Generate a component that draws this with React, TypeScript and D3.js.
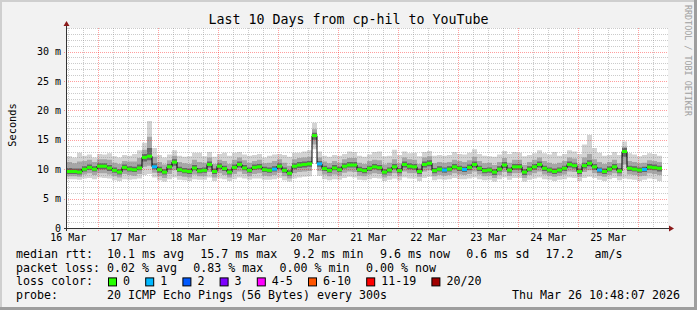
import React from 'react';
import * as d3 from 'd3';

const W = 697;
const H = 310;
const title = 'Last 10 Days from cp-hil to YouTube';
const yAxisTitle = 'Seconds';
const watermark = 'RRDTOOL / TOBI OETIKER';
const startTime = Date.UTC(2026, 2, 16, 11, 29);
const endTime = Date.UTC(2026, 2, 26, 11, 29);
const stepHours = 2;

// median rtt per 2h step (ms)
const medianMs = [
  9.6, 9.6, 9.5, 10.0, 10.3, 10.0, 10.5, 10.5, 10.2, 9.8,
  9.5, 10.3, 10.0, 9.9, 10.2, 12.0, 12.2, 10.4, 9.9, 9.5,
  10.4, 11.2, 9.9, 9.7, 9.6, 10.2, 9.7, 9.8, 10.8, 9.6,
  10.5, 10.1, 9.5, 10.3, 10.8, 10.2, 9.8, 10.3, 10.4, 9.9,
  9.8, 10.0, 10.5, 9.8, 9.3, 10.5, 10.7, 10.8, 10.9, 15.7,
  10.9, 10.1, 9.8, 10.2, 9.9, 10.5, 10.7, 10.7, 9.9, 9.75,
  10.15, 10.4, 10.25, 9.5, 9.85, 10.4, 9.75, 10.8, 10.5, 10.4,
  9.6, 10.8, 11.0, 9.75, 10.0, 9.85, 10.0, 10.4, 10.15, 9.95,
  10.3, 10.8, 10.15, 9.75, 9.85, 9.5, 10.0, 10.7, 9.85, 10.4,
  10.4, 9.5, 10.0, 10.4, 10.8, 10.15, 9.85, 9.6, 9.85, 10.15,
  10.8, 10.6, 9.6, 10.6, 11.0, 10.4, 9.85, 9.6, 10.0, 10.4,
  9.7, 13.0, 10.15, 10.0, 9.85, 9.95, 10.35, 10.25, 10.15,
];

// lost pings (of 20) per step
const lostPings = [
  0, 0, 0, 0, 0, 0, 0, 0, 0, 0,
  0, 0, 0, 0, 0, 0, 0, 1, 0, 0,
  0, 0, 0, 0, 0, 0, 0, 0, 0, 0,
  0, 0, 0, 0, 0, 0, 0, 0, 0, 0,
  0, 1, 0, 0, 0, 0, 0, 0, 0, 0,
  1, 0, 0, 0, 0, 0, 0, 0, 0, 0,
  0, 0, 0, 0, 0, 0, 0, 0, 0, 0,
  0, 0, 0, 0, 0, 1, 0, 0, 0, 1,
  0, 0, 0, 0, 0, 0, 0, 0, 0, 0,
  0, 0, 0, 0, 0, 0, 0, 0, 0, 0,
  0, 0, 0, 0, 0, 0, 1, 0, 0, 0,
  0, 0, 0, 0, 0, 1, 0, 0, 0,
];

const smokeMax = [
  12.2, 12.0, 12.8, 12.3, 12.5, 12.0, 12.6, 12.5, 12.7, 12.2,
  12.0, 12.4, 12.3, 12.6, 13.2, 14.5, 18.2, 13.6, 12.4, 12.0,
  12.5, 13.2, 12.3, 12.1, 12.2, 12.8, 12.8, 12.2, 12.9, 12.1,
  12.6, 12.8, 12.3, 12.8, 12.9, 12.5, 12.3, 12.4, 12.6, 12.0,
  12.3, 12.5, 12.6, 12.4, 12.1, 12.8, 12.8, 13.0, 13.2, 17.9,
  13.0, 12.3, 12.1, 12.4, 12.3, 12.6, 13.0, 12.9, 12.3, 12.1,
  12.5, 12.9, 13.0, 12.2, 12.3, 13.3, 12.4, 13.0, 12.7, 12.8,
  12.2, 12.9, 13.1, 12.3, 12.4, 12.3, 12.4, 12.9, 12.6, 12.5,
  12.8, 13.4, 12.6, 12.3, 12.2, 12.1, 12.5, 13.1, 12.6, 12.9,
  12.8, 12.2, 12.4, 12.7, 13.2, 12.7, 12.5, 12.9, 12.3, 12.6,
  13.2, 13.0, 12.6, 14.2, 15.8, 13.6, 12.8, 12.3, 12.4, 12.9,
  12.4, 14.7, 12.7, 12.5, 12.2, 12.4, 12.7, 12.6, 12.3,
];

const smokeMin = [
  8.3, 8.3, 8.2, 8.4, 8.5, 8.3, 8.6, 8.5, 8.4, 8.1,
  8.0, 8.3, 8.2, 8.3, 8.4, 9.0, 9.2, 8.6, 8.1, 7.9,
  8.3, 8.6, 8.2, 8.1, 8.0, 8.3, 8.2, 8.2, 8.6, 8.0,
  8.4, 8.3, 8.0, 8.3, 8.6, 8.4, 8.2, 8.4, 8.4, 8.2,
  8.2, 8.3, 8.5, 8.1, 7.9, 8.4, 8.6, 8.7, 8.8, 13.4,
  8.9, 8.3, 8.1, 8.3, 8.2, 8.5, 8.7, 8.6, 8.2, 8.1,
  8.3, 8.5, 8.4, 8.0, 8.2, 8.4, 8.1, 8.6, 8.4, 8.4,
  8.0, 8.5, 8.7, 8.1, 8.3, 8.2, 8.3, 8.5, 8.3, 8.3,
  8.4, 8.6, 8.3, 8.1, 8.2, 7.9, 8.3, 8.6, 8.2, 8.5,
  8.5, 7.9, 8.2, 8.4, 8.6, 8.3, 8.2, 8.0, 8.2, 8.3,
  8.6, 8.5, 8.0, 8.5, 8.7, 8.5, 8.2, 8.0, 8.3, 8.5,
  8.1, 8.4, 8.3, 8.2, 8.0, 8.2, 8.4, 8.3, 8.0,
];

const smokeP10 = [
  8.8, 8.8, 8.7, 9.1, 9.3, 9.0, 9.3, 9.3, 9.1, 8.8,
  8.6, 9.2, 9.0, 8.9, 9.2, 10.4, 10.6, 9.4, 8.8, 8.5,
  9.2, 9.8, 8.9, 8.7, 8.6, 9.1, 8.8, 8.8, 9.5, 8.6,
  9.3, 9.0, 8.6, 9.2, 9.6, 9.2, 8.8, 9.2, 9.3, 8.9,
  8.8, 9.0, 9.4, 8.8, 8.4, 9.3, 9.5, 9.6, 9.7, 14.2,
  9.7, 9.1, 8.8, 9.1, 8.9, 9.4, 9.6, 9.5, 8.9, 8.8,
  9.1, 9.3, 9.2, 8.6, 8.9, 9.3, 8.8, 9.6, 9.3, 9.3,
  8.7, 9.6, 9.8, 8.8, 9.0, 8.9, 9.0, 9.3, 9.1, 9.0,
  9.2, 9.6, 9.1, 8.8, 8.9, 8.5, 9.0, 9.5, 8.9, 9.3,
  9.3, 8.5, 9.0, 9.3, 9.6, 9.1, 8.9, 8.7, 8.9, 9.1,
  9.6, 9.5, 8.7, 9.5, 9.8, 9.3, 8.9, 8.7, 9.0, 9.3,
  8.8, 10.8, 9.1, 9.0, 8.8, 8.9, 9.3, 9.2, 9.0,
];

const smokeP90 = [
  11.2, 11.0, 11.3, 11.4, 11.6, 11.2, 11.7, 11.7, 11.6, 11.1,
  10.9, 11.4, 11.3, 11.3, 11.9, 13.3, 15.5, 12.1, 11.2, 10.8,
  11.5, 12.3, 11.2, 11.0, 10.9, 11.6, 11.2, 11.1, 12.0, 10.9,
  11.6, 11.4, 10.9, 11.6, 12.0, 11.5, 11.1, 11.4, 11.6, 11.0,
  11.1, 11.4, 11.7, 11.1, 10.6, 11.7, 11.9, 12.0, 12.1, 16.8,
  12.0, 11.3, 11.0, 11.4, 11.1, 11.7, 11.9, 11.9, 11.1, 10.9,
  11.4, 11.6, 11.5, 10.8, 11.1, 11.7, 11.0, 12.0, 11.7, 11.6,
  10.9, 12.0, 12.2, 11.0, 11.2, 11.1, 11.2, 11.6, 11.4, 11.2,
  11.5, 12.1, 11.4, 11.0, 11.1, 10.7, 11.2, 11.9, 11.1, 11.6,
  11.6, 10.7, 11.2, 11.6, 12.0, 11.4, 11.1, 10.9, 11.1, 11.4,
  12.0, 11.8, 10.9, 12.0, 12.6, 11.7, 11.2, 10.9, 11.2, 11.6,
  11.0, 13.8, 11.4, 11.2, 11.0, 11.1, 11.5, 11.4, 11.2,
];

const smokeQ1 = [
  9.2, 9.2, 9.1, 9.6, 9.9, 9.6, 10.0, 10.0, 9.7, 9.4,
  9.1, 9.8, 9.6, 9.5, 9.8, 11.3, 11.5, 10.0, 9.4, 9.1,
  9.9, 10.6, 9.5, 9.3, 9.2, 9.8, 9.3, 9.4, 10.3, 9.2,
  10.0, 9.7, 9.1, 9.9, 10.3, 9.8, 9.4, 9.9, 10.0, 9.5,
  9.4, 9.6, 10.0, 9.4, 8.9, 10.0, 10.2, 10.3, 10.4, 15.0,
  10.4, 9.7, 9.4, 9.8, 9.5, 10.1, 10.3, 10.3, 9.5, 9.3,
  9.7, 10.0, 9.8, 9.1, 9.4, 10.0, 9.3, 10.3, 10.0, 9.9,
  9.2, 10.3, 10.5, 9.3, 9.6, 9.4, 9.6, 10.0, 9.7, 9.5,
  9.8, 10.3, 9.7, 9.3, 9.4, 9.0, 9.6, 10.2, 9.4, 9.9,
  9.9, 9.0, 9.6, 9.9, 10.3, 9.7, 9.4, 9.2, 9.4, 9.7,
  10.3, 10.1, 9.2, 10.1, 10.5, 9.9, 9.4, 9.2, 9.6, 9.9,
  9.3, 12.1, 9.7, 9.6, 9.4, 9.5, 9.9, 9.8, 9.6,
];

const smokeQ3 = [
  10.2, 10.1, 10.1, 10.5, 10.8, 10.5, 11.0, 11.0, 10.7, 10.3,
  10.0, 10.8, 10.5, 10.4, 10.8, 12.6, 13.6, 11.0, 10.4, 10.0,
  10.9, 11.7, 10.4, 10.2, 10.1, 10.7, 10.2, 10.3, 11.3, 10.1,
  11.0, 10.6, 10.0, 10.8, 11.3, 10.7, 10.3, 10.8, 10.9, 10.4,
  10.3, 10.5, 11.0, 10.3, 9.8, 11.0, 11.2, 11.3, 11.4, 16.2,
  11.4, 10.6, 10.3, 10.7, 10.4, 11.0, 11.2, 11.2, 10.4, 10.2,
  10.6, 10.9, 10.7, 10.0, 10.3, 10.9, 10.2, 11.3, 11.0, 10.9,
  10.1, 11.3, 11.5, 10.2, 10.5, 10.3, 10.5, 10.9, 10.6, 10.4,
  10.8, 11.3, 10.6, 10.2, 10.3, 10.0, 10.5, 11.2, 10.3, 10.9,
  10.9, 10.0, 10.5, 10.9, 11.3, 10.6, 10.3, 10.1, 10.3, 10.6,
  11.3, 11.1, 10.1, 11.1, 11.5, 10.9, 10.3, 10.1, 10.5, 10.9,
  10.2, 13.6, 10.6, 10.5, 10.3, 10.4, 10.9, 10.8, 10.6,
];

const yMaxMs = 34;
const rttLabel = 'median rtt:';
const rttStats = ['10.1 ms avg', '15.7 ms max', '9.2 ms min', '9.6 ms now', '0.6 ms sd', '17.2   am/s'];
const lossLabel = 'packet loss:';
const lossStats = ['0.02 % avg', '0.83 % max', '0.00 % min', '0.00 % now'];
const colorLabel = 'loss color:';
const lossNames = ['0', '1', '2', '3', '4-5', '6-10', '11-19', '20/20'];
const lossUpper = [0, 1, 2, 3, 5, 10, 19, 20];
const lossColors = ['#26ff00', '#00b8ff', '#0059ff', '#7e00ff', '#ff00ff', '#ff5500', '#ff0000', '#a10000'];
const probeLabel = 'probe:';
const probeText = '20 ICMP Echo Pings (56 Bytes) every 300s';
const stampText = 'Thu Mar 26 10:48:07 2026';

const MONO = '"DejaVu Sans Mono", monospace';
const L = 67, R = 667, T = 28, B = 228;
const CW = 7; // legend char advance

function colorFor(lost: number) {
  const k = lossUpper.findIndex((u) => lost <= u);
  return lossColors[k < 0 ? lossColors.length - 1 : k];
}

export default function App() {
  const x = d3.scaleUtc().domain([new Date(startTime), new Date(endTime)]).range([L, R]);
  const y = d3.scaleLinear().domain([0, yMaxMs]).range([B, T]);
  const stepMs = stepHours * 3600 * 1000;
  const n = medianMs.length;
  const pts = d3.range(n + 1).map((i) => {
    const j = Math.min(i, n - 1);
    return {
      t: new Date(startTime + i * stepMs),
      med: medianMs[j], lo: smokeMin[j], hi: smokeMax[j],
      p10: smokeP10[j], p90: smokeP90[j], q1: smokeQ1[j], q3: smokeQ3[j],
    };
  });
  type P = typeof pts[number];
  const band = (a: (d: P) => number, b: (d: P) => number) =>
    d3.area<P>().x((d) => x(d.t)).y0((d) => y(a(d))).y1((d) => y(b(d))).curve(d3.curveStepAfter)(pts) || '';
  const medLine = d3.line<P>().x((d) => x(d.t)).y((d) => y(d.med)).curve(d3.curveStepAfter)(pts) || '';

  const start = new Date(startTime), end = new Date(endTime);
  const minorX = d3.utcHour.every(6)!.range(start, end).filter((d) => d.getUTCHours() !== 0);
  const majorX = d3.utcDay.range(start, end);
  const labelX = d3.utcDay.range(d3.utcDay.floor(start), end).map((d) => d3.utcHour.offset(d, 12)).filter((d) => d >= start && d <= end);
  const fmt = d3.utcFormat('%d %b');
  const majorY = y.ticks(7);
  const minorY = y.ticks(34).filter((v) => !majorY.includes(v));

  const gridGray = 'rgba(140,140,140,0.45)';
  const gridRed = 'rgba(255,0,0,0.38)';

  const rttX: number[] = [];
  let cx = 107;
  rttStats.forEach((s) => { rttX.push(cx); cx += s.length * CW + 16.3; });
  const lossX: number[] = [];
  cx = 107;
  lossStats.forEach((s) => { lossX.push(cx); cx += s.length * CW + 16.3; });
  const boxX: number[] = [];
  cx = 108;
  lossNames.forEach((s) => { boxX.push(cx); cx += 15 + s.length * CW + 15.2; });

  const yb = [258, 271.7, 285.4, 299];

  return (
    <svg width={W} height={H} style={{ position: 'absolute', left: 0, top: 0 }} fontFamily={MONO}>
      <rect x={0} y={0} width={W} height={H} fill="#9e9e9e" />
      <rect x={0} y={0} width={W - 3} height={H - 3} fill="#cfcfcf" />
      <rect x={2} y={2} width={W - 5} height={H - 5} fill="#f2f2f2" />
      <rect x={L} y={T} width={R - L + 1} height={B - T} fill="#ffffff" />

      <text x={348.5} y={23.5} textAnchor="middle" fontSize={13.3} fill="#000">{title}</text>
      <text transform="translate(685,5) rotate(90)" fontSize={8.4} fill="#a0a0a0">{watermark}</text>
      <text transform="translate(16,125) rotate(-90)" textAnchor="middle" fontSize={10.3} fill="#000">{yAxisTitle}</text>

      <g>
        <path d={band((d) => d.lo, (d) => d.hi)} fill="#d3d3d3" />
        <path d={band((d) => d.p10, (d) => d.p90)} fill="#a6a6a6" />
        <path d={band((d) => d.q1, (d) => d.q3)} fill="#666666" />
      </g>

      <g strokeDasharray="1,1" strokeWidth={1}>
        {minorY.map((v) => (
          <line key={'my' + v} x1={L} x2={R + 1} y1={Math.round(y(v)) + 0.5} y2={Math.round(y(v)) + 0.5} stroke={gridGray} />
        ))}
        {minorX.map((d) => (
          <line key={'mx' + +d} x1={Math.round(x(d)) + 0.5} x2={Math.round(x(d)) + 0.5} y1={T} y2={B} stroke={gridGray} />
        ))}
        {majorY.filter((v) => v > 0).map((v) => (
          <line key={'My' + v} x1={L - 3} x2={R + 1} y1={Math.round(y(v)) + 0.5} y2={Math.round(y(v)) + 0.5} stroke={gridRed} />
        ))}
        {majorX.map((d) => (
          <line key={'Mx' + +d} x1={Math.round(x(d)) + 0.5} x2={Math.round(x(d)) + 0.5} y1={T} y2={B + 3} stroke={gridRed} />
        ))}
      </g>

      <path d={medLine} fill="none" stroke="#000" strokeWidth={1} />
      {medianMs.map((v, i) => (
        <rect key={'m' + i} x={x(pts[i].t)} y={y(v) - 1.5} width={x(pts[i + 1].t) - x(pts[i].t)} height={3} fill={colorFor(lostPings[i])} />
      ))}

      <g>
        <line x1={L - 3} x2={R + 3} y1={B + 0.5} y2={B + 0.5} stroke="#333" />
        <line x1={L - 0.5} x2={L - 0.5} y1={B + 3} y2={T - 3} stroke="#333" />
        <path d={`M${R + 2},${B - 2.5} L${R + 7},${B + 0.5} L${R + 2},${B + 3.5} Z`} fill="#8b1a1a" />
        <path d={`M${L - 3.5},${T - 2} L${L - 0.5},${T - 7} L${L + 2.5},${T - 2} Z`} fill="#8b1a1a" />
      </g>

      <g fontSize={10} fill="#000">
        {majorY.map((v) => (
          <text key={'yl' + v} x={61} y={y(v) + 3.6} textAnchor="end">{v === 0 ? '0' : `${v} m`}</text>
        ))}
        {labelX.map((d) => (
          <text key={'xl' + +d} x={x(d)} y={241.3} textAnchor="middle">{fmt(d)}</text>
        ))}
      </g>

      <g fontSize={11.63} fill="#000">
        <text x={16} y={yb[0]}>{rttLabel}</text>
        {rttStats.map((s, i) => (<text key={'r' + i} x={rttX[i]} y={yb[0]} style={{ whiteSpace: 'pre' }}>{s}</text>))}
        <text x={16} y={yb[1]}>{lossLabel}</text>
        {lossStats.map((s, i) => (<text key={'l' + i} x={lossX[i]} y={yb[1]}>{s}</text>))}
        <text x={16} y={yb[2]}>{colorLabel}</text>
        {lossNames.map((s, i) => (
          <g key={'b' + i}>
            <rect x={boxX[i] + 0.5} y={yb[2] - 7.5} width={8} height={8} fill={lossColors[i]} stroke="#000" strokeWidth={1} />
            <text x={boxX[i] + 15} y={yb[2]}>{s}</text>
          </g>
        ))}
        <text x={16} y={yb[3]}>{probeLabel}</text>
        <text x={107} y={yb[3]}>{probeText}</text>
        <text x={680} y={yb[3]} textAnchor="end">{stampText}</text>
      </g>
    </svg>
  );
}
